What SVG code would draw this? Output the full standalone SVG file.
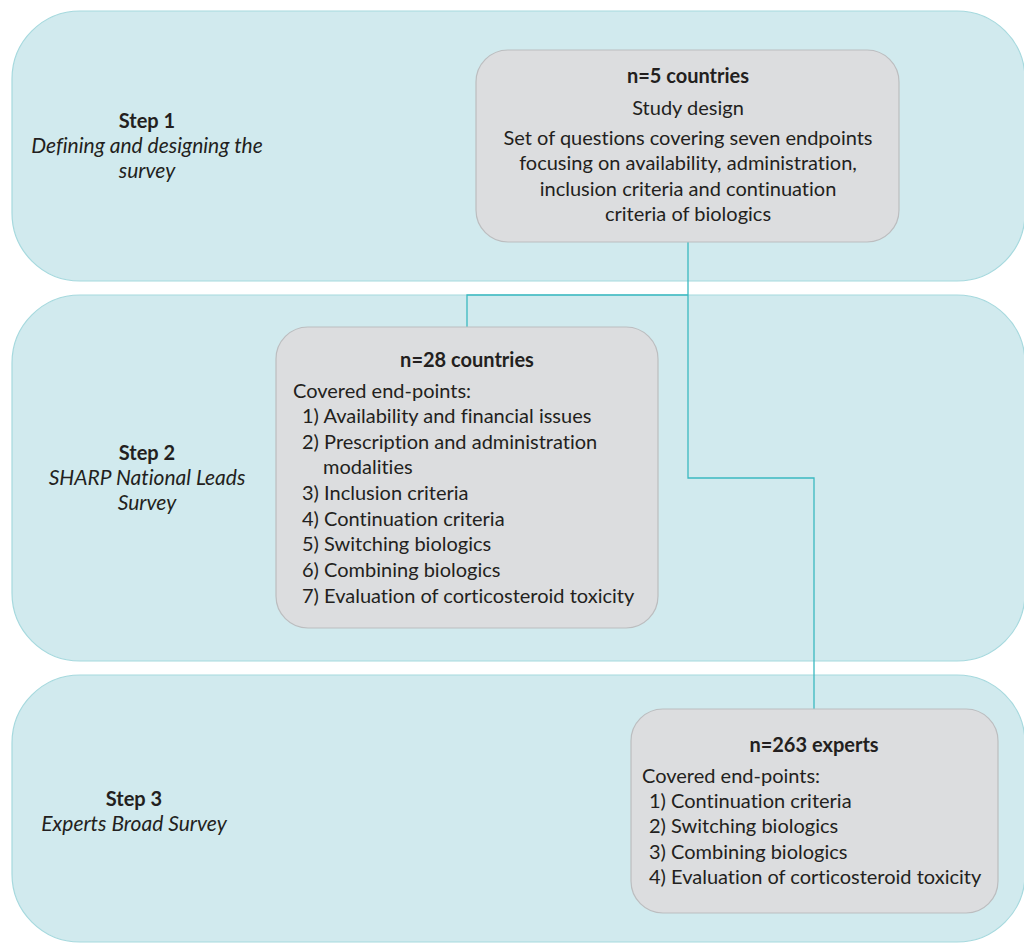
<svg xmlns="http://www.w3.org/2000/svg" width="1024" height="943" viewBox="0 0 1024 943">
<style>
.band{fill:#d1eaee;stroke:#a6d9de;stroke-width:1.2}
.box{fill:#dcdddf;stroke:#bcbdbf;stroke-width:1.2}
.t{font-family:Lato,"Noto Sans",sans-serif;font-size:20px;fill:#231f20;font-variant-ligatures:none}
.b{font-weight:bold}
.i{font-style:italic;font-size:21px}
.c{text-anchor:middle}
.conn{fill:none;stroke:#3bb9c1;stroke-width:1.3}
</style>
<rect width="1024" height="943" fill="#ffffff"/>
<g id="band1"><rect class="band" x="12" y="11" width="1013" height="270" rx="68"/>
<text class="t b c" x="147" y="128">Step 1</text>
<text class="t i c" x="147" y="153">Defining and designing the</text>
<text class="t i c" x="147" y="178">survey</text></g>
<g id="band2"><rect class="band" x="12" y="295" width="1013" height="366" rx="68"/>
<text class="t b c" x="147" y="460">Step 2</text>
<text class="t i c" x="147" y="485">SHARP National Leads</text>
<text class="t i c" x="147" y="510">Survey</text></g>
<g id="band3"><rect class="band" x="12" y="675" width="1013" height="267" rx="68"/>
<text class="t b c" x="134" y="806">Step 3</text>
<text class="t i c" x="134" y="831">Experts Broad Survey</text></g>
<g id="connectors">
<path class="conn" d="M688 242 V478 H814 V709"/>
<path class="conn" d="M688 295 H467 V327"/>
</g>
<g id="box1"><rect class="box" x="476" y="50" width="423" height="192" rx="32"/>
<text class="t b c" x="688" y="83">n=5 countries</text>
<text class="t c" x="688" y="115">Study design</text>
<text class="t c" x="688" y="145">Set of questions covering seven endpoints</text>
<text class="t c" x="688" y="170">focusing on availability, administration,</text>
<text class="t c" x="688" y="196">inclusion criteria and continuation</text>
<text class="t c" x="688" y="221">criteria of biologics</text></g>
<g id="box2"><rect class="box" x="276" y="327" width="382" height="301" rx="32"/>
<text class="t b c" x="467" y="367">n=28 countries</text>
<text class="t" x="293" y="398">Covered end-points:</text>
<text class="t" x="302" y="423">1) Availability and financial issues</text>
<text class="t" x="302" y="449">2) Prescription and administration</text>
<text class="t" x="323" y="474">modalities</text>
<text class="t" x="302" y="500">3) Inclusion criteria</text>
<text class="t" x="302" y="526">4) Continuation criteria</text>
<text class="t" x="302" y="551">5) Switching biologics</text>
<text class="t" x="302" y="577">6) Combining biologics</text>
<text class="t" x="302" y="603">7) Evaluation of corticosteroid toxicity</text></g>
<g id="box3"><rect class="box" x="631" y="709" width="367" height="204" rx="32"/>
<text class="t b c" x="814" y="752">n=263 experts</text>
<text class="t" x="642" y="783">Covered end-points:</text>
<text class="t" x="649" y="808">1) Continuation criteria</text>
<text class="t" x="649" y="833">2) Switching biologics</text>
<text class="t" x="649" y="859">3) Combining biologics</text>
<text class="t" x="649" y="884">4) Evaluation of corticosteroid toxicity</text></g>
</svg>
